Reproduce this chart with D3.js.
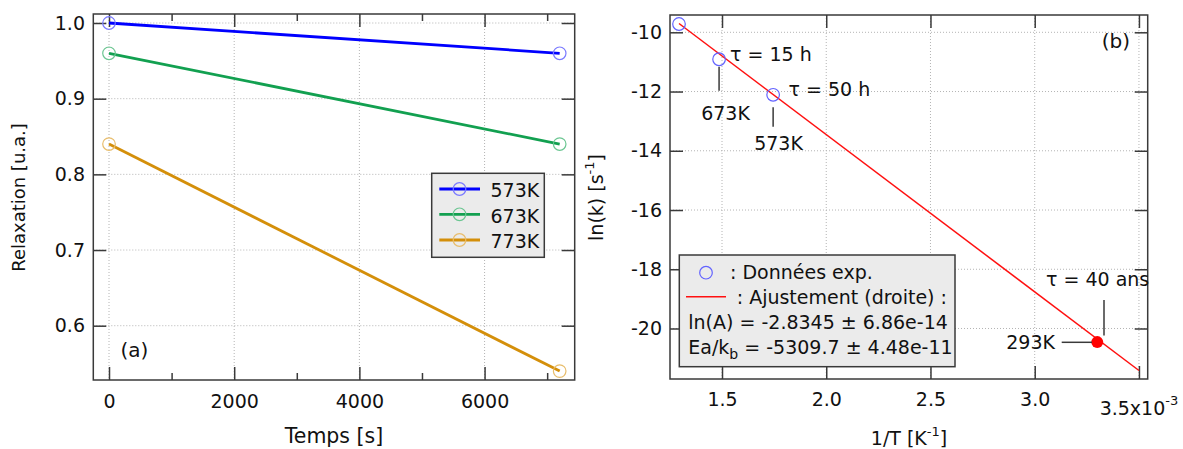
<!DOCTYPE html>
<html>
<head>
<meta charset="utf-8">
<script src="https://cdn.jsdelivr.net/npm/d3@7"></script>
<style>
  html, body { margin: 0; padding: 0; background: #fff; }
  svg { display: block; }
  text { font-family: "DejaVu Sans", sans-serif; fill: #111; }
</style>
</head>
<body>
<svg id="chart" width="1183" height="449"></svg>
<script>
// ---------- DATA ----------
// Panel (a): relaxation vs time
const timeS = [0, 7200];
const seriesNames = ["573K", "673K", "773K"];
const relax573 = [1.0, 0.96];
const relax673 = [0.96, 0.84];
const relax773 = [0.84, 0.54];
const xTicksA = [0, 2000, 4000, 6000];
const xMinorA = [1000, 3000, 5000, 7000];
const yTicksA = [0.6, 0.7, 0.8, 0.9, 1.0];

// Panel (b): Arrhenius plot (1/T in 1e-3 K^-1)
const invT = [1.2937, 1.4859, 1.7452];
const lnK = [-9.72, -10.91, -12.11];
const fitX = [1.2937, 3.5];
const fitY = [-9.703, -21.418];
const extrapX = [3.30];
const extrapY = [-20.46];
const xTicksB = [1.5, 2.0, 2.5, 3.0, 3.5];
const yTicksB = [-20, -18, -16, -14, -12, -10];
const legendBLines = [": Données exp.", ": Ajustement (droite) :", "ln(A) = -2.8345 ± 6.86e-14"];

// ---------- STYLE ----------
const colors = ["#0000ff", "#12a050", "#d48f0a"];
const markerColors = ["#7a7aff", "#6cc692", "#e8bd6c"];
const FS = 19;
const frameColor = "#3a3a3a";
const gridColor = "#b4b4b4";

const svg = d3.select("#chart");

function styleAxis(g) {
  g.select(".domain").remove();
  g.selectAll(".tick line").attr("stroke", frameColor).attr("stroke-width", 1.5);
  g.selectAll(".tick text").style("font-family", '"DejaVu Sans", sans-serif')
    .style("font-size", FS + "px").attr("fill", "#111");
}

// ================= PANEL (a) =================
const xA = d3.scaleLinear().domain([-251, 7440]).range([93.3, 574.7]);
const yA = d3.scaleLinear().domain([0.52825, 1.0119]).range([380, 14]);
const gA = svg.append("g");

// grid
gA.append("g").selectAll("line").data(xTicksA).join("line")
  .attr("x1", d => xA(d)).attr("x2", d => xA(d))
  .attr("y1", yA.range()[1]).attr("y2", yA.range()[0])
  .attr("stroke", gridColor).attr("stroke-width", 1).attr("stroke-dasharray", "1,2");
gA.append("g").selectAll("line").data(yTicksA).join("line")
  .attr("y1", d => yA(d)).attr("y2", d => yA(d))
  .attr("x1", xA.range()[0]).attr("x2", xA.range()[1])
  .attr("stroke", gridColor).attr("stroke-width", 1).attr("stroke-dasharray", "1,2");

// axes
gA.append("g").attr("transform", `translate(0,${yA.range()[0]})`)
  .call(d3.axisBottom(xA).tickValues(xTicksA).tickSize(-13).tickPadding(14.5).tickFormat(d3.format("d")))
  .call(styleAxis);
gA.append("g").attr("transform", `translate(0,${yA.range()[0]})`)
  .call(d3.axisBottom(xA).tickValues(xMinorA).tickSize(-7).tickFormat(""))
  .call(styleAxis);
gA.append("g").attr("transform", `translate(0,${yA.range()[1]})`)
  .call(d3.axisTop(xA).tickValues(xTicksA).tickSize(-13).tickFormat(""))
  .call(styleAxis);
gA.append("g").attr("transform", `translate(0,${yA.range()[1]})`)
  .call(d3.axisTop(xA).tickValues(xMinorA).tickSize(-7).tickFormat(""))
  .call(styleAxis);
gA.append("g").attr("transform", `translate(${xA.range()[0]},0)`)
  .call(d3.axisLeft(yA).tickValues(yTicksA).tickSize(-13).tickPadding(8.3).tickFormat(d3.format(".1f")))
  .call(styleAxis);
gA.append("g").attr("transform", `translate(${xA.range()[1]},0)`)
  .call(d3.axisRight(yA).tickValues(yTicksA).tickSize(-13).tickFormat(""))
  .call(styleAxis);

// frame
gA.append("rect").attr("x", xA.range()[0]).attr("y", yA.range()[1])
  .attr("width", xA.range()[1] - xA.range()[0]).attr("height", yA.range()[0] - yA.range()[1])
  .attr("fill", "none").attr("stroke", frameColor).attr("stroke-width", 1.5);

// series
const seriesA = [relax573, relax673, relax773];
const lineA = d3.line().x((d, i) => xA(timeS[i])).y(d => yA(d));
seriesA.forEach((vals, si) => {
  gA.append("path").datum(vals).attr("d", lineA)
    .attr("fill", "none").attr("stroke", colors[si]).attr("stroke-width", 2.8);
  gA.append("g").selectAll("circle").data(vals).join("circle")
    .attr("cx", (d, i) => xA(timeS[i])).attr("cy", d => yA(d)).attr("r", 6.3)
    .attr("fill", "none").attr("stroke", markerColors[si]).attr("stroke-width", 1.2);
});

// legend (a)
const legA = gA.append("g");
legA.append("rect").attr("x", 431.7).attr("y", 173.3).attr("width", 112.6).attr("height", 84)
  .attr("fill", "#ebebeb").attr("stroke", frameColor).attr("stroke-width", 1.5);
const legAy = [189, 214.3, 240];
seriesNames.forEach((name, si) => {
  legA.append("line").attr("x1", 439.3).attr("x2", 480).attr("y1", legAy[si]).attr("y2", legAy[si])
    .attr("stroke", colors[si]).attr("stroke-width", 2.8);
  legA.append("circle").attr("cx", 459.5).attr("cy", legAy[si]).attr("r", 6.3)
    .attr("fill", "none").attr("stroke", markerColors[si]).attr("stroke-width", 1.2);
  legA.append("text").attr("x", 490.5).attr("y", legAy[si] + 8.3).style("font-size", FS + "px").text(name);
});

// labels (a)
gA.append("text").attr("x", 120.5).attr("y", 357).style("font-size", "20px").text("(a)");
gA.append("text").attr("x", 334).attr("y", 443).attr("text-anchor", "middle")
  .style("font-size", "20.5px").text("Temps [s]");
gA.append("text").attr("transform", "translate(25,197.5) rotate(-90)").attr("text-anchor", "middle")
  .style("font-size", "18px").text("Relaxation [u.a.]");

// ================= PANEL (b) =================
const xB = d3.scaleLinear().domain([1.2505, 3.542]).range([670, 1147.7]);
const yB = d3.scaleLinear().domain([-21.705, -9.416]).range([379, 15]);
const gB = svg.append("g");

gB.append("g").selectAll("line").data(xTicksB).join("line")
  .attr("x1", d => xB(d)).attr("x2", d => xB(d))
  .attr("y1", yB.range()[1]).attr("y2", yB.range()[0])
  .attr("stroke", gridColor).attr("stroke-width", 1).attr("stroke-dasharray", "1,2");
gB.append("g").selectAll("line").data(yTicksB).join("line")
  .attr("y1", d => yB(d)).attr("y2", d => yB(d))
  .attr("x1", xB.range()[0]).attr("x2", xB.range()[1])
  .attr("stroke", gridColor).attr("stroke-width", 1).attr("stroke-dasharray", "1,2");

gB.append("g").attr("transform", `translate(0,${yB.range()[0]})`)
  .call(d3.axisBottom(xB).tickValues(xTicksB).tickSize(-13).tickPadding(14)
    .tickFormat(d => d === 3.5 ? "" : d3.format(".1f")(d)))
  .call(styleAxis);
gB.append("g").attr("transform", `translate(0,${yB.range()[1]})`)
  .call(d3.axisTop(xB).tickValues(xTicksB).tickSize(-13).tickFormat(""))
  .call(styleAxis);
gB.append("g").attr("transform", `translate(${xB.range()[0]},0)`)
  .call(d3.axisLeft(yB).tickValues(yTicksB).tickSize(-13).tickPadding(8).tickFormat(d => String(d)))
  .call(styleAxis);
gB.append("g").attr("transform", `translate(${xB.range()[1]},0)`)
  .call(d3.axisRight(yB).tickValues(yTicksB).tickSize(-13).tickFormat(""))
  .call(styleAxis);

// last x tick label with exponent
const lastLbl = gB.append("text").attr("x", xB(3.5)).attr("y", 415).attr("text-anchor", "middle")
  .style("font-size", FS + "px");
lastLbl.append("tspan").text("3.5x10");
lastLbl.append("tspan").attr("dy", -10).style("font-size", "13px").text("-3");

gB.append("rect").attr("x", xB.range()[0]).attr("y", yB.range()[1])
  .attr("width", xB.range()[1] - xB.range()[0]).attr("height", yB.range()[0] - yB.range()[1])
  .attr("fill", "none").attr("stroke", frameColor).attr("stroke-width", 1.5);

// fit line
const lineB = d3.line().x((d, i) => xB(fitX[i])).y(d => yB(d));
gB.append("path").datum(fitY).attr("d", lineB).attr("fill", "none")
  .attr("stroke", "#ff1010").attr("stroke-width", 1.5);

// data points
gB.append("g").selectAll("circle").data(lnK).join("circle")
  .attr("cx", (d, i) => xB(invT[i])).attr("cy", d => yB(d)).attr("r", 6.3)
  .attr("fill", "none").attr("stroke", "#6262ff").attr("stroke-width", 1.2);

// extrapolated point
gB.append("g").selectAll("circle").data(extrapY).join("circle")
  .attr("cx", (d, i) => xB(extrapX[i])).attr("cy", d => yB(d)).attr("r", 6)
  .attr("fill", "#ff0000");

// annotations
const ann = gB.append("g");
ann.append("text").attr("x", 730).attr("y", 60.5).style("font-size", FS + "px").text("τ = 15 h");
ann.append("text").attr("x", 788.5).attr("y", 96).style("font-size", FS + "px").text("τ = 50 h");
ann.append("line").attr("x1", xB(invT[1])).attr("x2", xB(invT[1])).attr("y1", 66.7).attr("y2", 90.7)
  .attr("stroke", frameColor).attr("stroke-width", 1.5);
ann.append("text").attr("x", 725.5).attr("y", 120).attr("text-anchor", "middle").style("font-size", FS + "px").text("673K");
ann.append("line").attr("x1", xB(invT[2])).attr("x2", xB(invT[2])).attr("y1", 107.3).attr("y2", 126.7)
  .attr("stroke", frameColor).attr("stroke-width", 1.5);
ann.append("text").attr("x", 778.5).attr("y", 150).attr("text-anchor", "middle").style("font-size", FS + "px").text("573K");
ann.append("text").attr("x", 1046).attr("y", 286).style("font-size", FS + "px").text("τ = 40 ans");
ann.append("line").attr("x1", 1104).attr("x2", 1104).attr("y1", 300).attr("y2", 335.5)
  .attr("stroke", frameColor).attr("stroke-width", 1.5);
ann.append("line").attr("x1", 1061.7).attr("x2", 1092).attr("y1", 342.3).attr("y2", 342.3)
  .attr("stroke", frameColor).attr("stroke-width", 1.5);
ann.append("text").attr("x", 1055).attr("y", 348.5).attr("text-anchor", "end").style("font-size", FS + "px").text("293K");
ann.append("text").attr("x", 1130).attr("y", 48).attr("text-anchor", "end").style("font-size", "20px").text("(b)");

// legend (b)
const legB = gB.append("g");
legB.append("rect").attr("x", 679.3).attr("y", 255).attr("width", 275.7).attr("height", 111.7)
  .attr("fill", "#ebebeb").attr("stroke", frameColor).attr("stroke-width", 1.5);
legB.append("circle").attr("cx", 706).attr("cy", 272.7).attr("r", 6.3)
  .attr("fill", "none").attr("stroke", "#6262ff").attr("stroke-width", 1.2);
legB.append("text").attr("x", 730).attr("y", 278.5).style("font-size", FS + "px").text(legendBLines[0]);
legB.append("line").attr("x1", 686).attr("x2", 726).attr("y1", 296.7).attr("y2", 296.7)
  .attr("stroke", "#ff1010").attr("stroke-width", 1.5);
legB.append("text").attr("x", 736.7).attr("y", 303.5).style("font-size", FS + "px").text(legendBLines[1]);
legB.append("text").attr("x", 688.3).attr("y", 328.5).style("font-size", FS + "px").text(legendBLines[2]);
const eaT = legB.append("text").attr("x", 688.3).attr("y", 353.5).style("font-size", FS + "px");
eaT.append("tspan").text("Ea/k");
eaT.append("tspan").attr("dy", 5).style("font-size", "14px").text("b");
eaT.append("tspan").attr("dy", -5).text(" = -5309.7 ± 4.48e-11");

// axis titles (b)
const xtB = gB.append("text").attr("x", 909).attr("y", 444.5).attr("text-anchor", "middle").style("font-size", FS + "px");
xtB.append("tspan").text("1/T [K");
xtB.append("tspan").attr("dy", -9).style("font-size", "13px").text("-1");
xtB.append("tspan").attr("dy", 9).text("]");
const ytB = gB.append("text").attr("transform", "translate(603,197.5) rotate(-90)").attr("text-anchor", "middle").style("font-size", FS + "px");
ytB.append("tspan").text("ln(k) [s");
ytB.append("tspan").attr("dy", -9).style("font-size", "13px").text("-1");
ytB.append("tspan").attr("dy", 9).text("]");
</script>
</body>
</html>
